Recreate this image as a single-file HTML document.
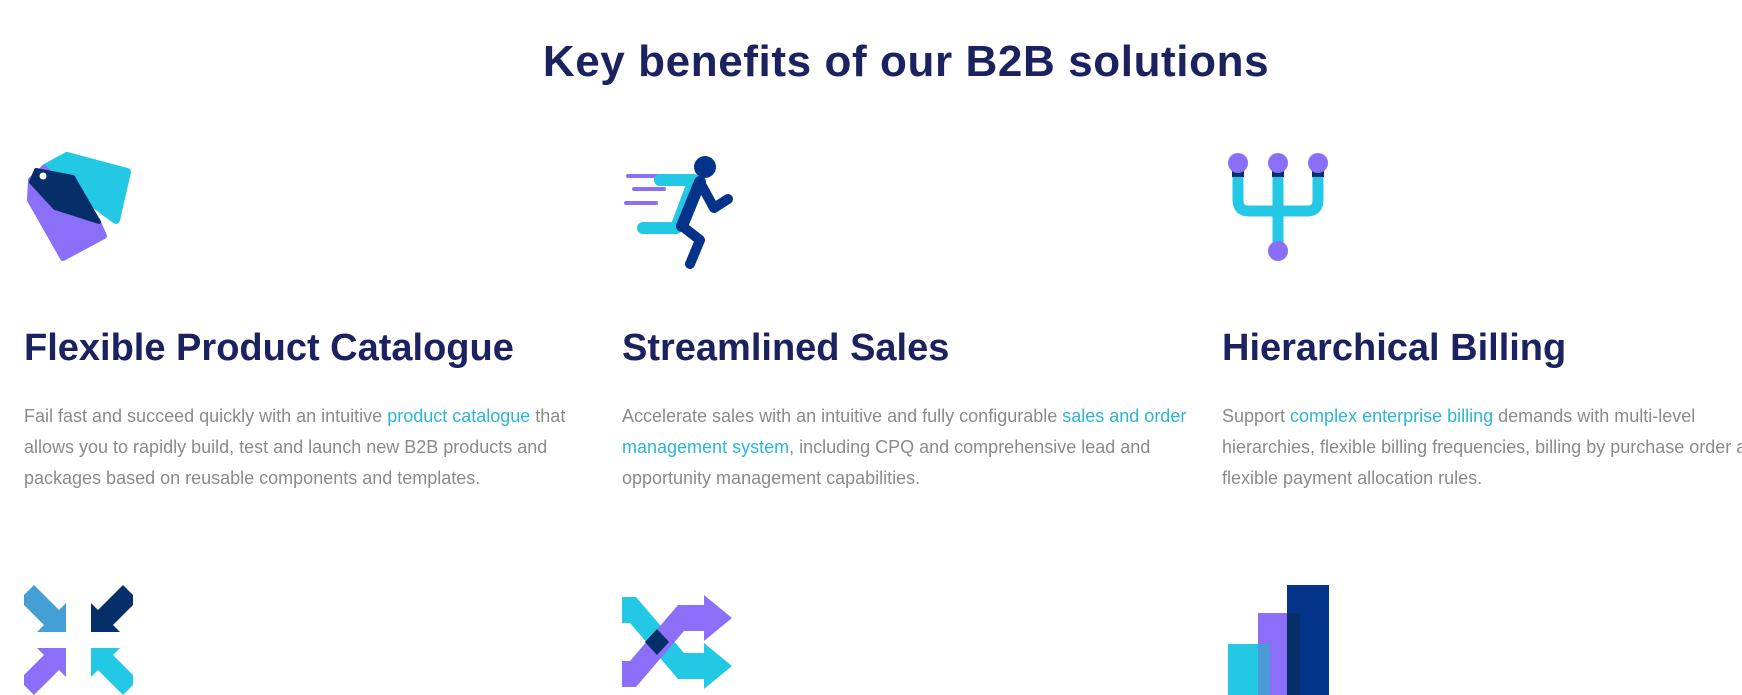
<!DOCTYPE html>
<html><head><meta charset="utf-8"><style>
html,body{margin:0;padding:0;background:#fff;width:1742px;height:695px;overflow:hidden;position:relative;font-family:"Liberation Sans",sans-serif}
h1{position:absolute;left:0;width:1812px;top:37px;margin:0;text-align:center;font-size:44px;font-weight:bold;color:#1c2260;letter-spacing:0.6px}
h2{position:absolute;margin:0;top:327px;font-size:38px;font-weight:bold;color:#1c2260;white-space:nowrap}
p{position:absolute;margin:0;top:401px;font-size:18px;line-height:31px;color:#8a8a8a;width:580px;white-space:nowrap}
a{color:#2bb5d8;text-decoration:none}
svg{position:absolute;left:0;top:0}
</style></head><body>
<h1>Key benefits of our B2B solutions</h1>
<h2 style="left:24px">Flexible Product Catalogue</h2>
<h2 style="left:622px">Streamlined Sales</h2>
<h2 style="left:1222px">Hierarchical Billing</h2>
<p style="left:24px">Fail fast and succeed quickly with an intuitive <a>product catalogue</a> that<br>allows you to rapidly build, test and launch new B2B products and<br>packages based on reusable components and templates.</p>
<p style="left:622px">Accelerate sales with an intuitive and fully configurable <a>sales and order</a><br><a>management system</a>, including CPQ and comprehensive lead and<br>opportunity management capabilities.</p>
<p style="left:1222px">Support <a>complex enterprise billing</a> demands with multi-level<br>hierarchies, flexible billing frequencies, billing by purchase order and<br>flexible payment allocation rules.</p>
<svg width="1742" height="695" viewBox="0 0 1742 695">
<!-- tag -->
<polygon points="67,156 127,172 116,220 45,168" fill="#23c9e4" stroke="#23c9e4" stroke-width="8" stroke-linejoin="round"/>
<polygon points="31,180 44,168 97,220 104,236 63,258 30,200" fill="#8b6ff9" stroke="#8b6ff9" stroke-width="6" stroke-linejoin="round"/>
<polygon points="36,170 73,177 99,222 55,208 31,182" fill="#062e68" stroke="#062e68" stroke-width="4" stroke-linejoin="round"/>
<circle cx="43" cy="176" r="3.5" fill="#fff"/>
<!-- runner -->
<g stroke-linecap="round" fill="none">
<line x1="628" y1="176" x2="672" y2="176" stroke="#8b6ff9" stroke-width="4"/>
<line x1="634" y1="189" x2="664" y2="189" stroke="#8b6ff9" stroke-width="4"/>
<line x1="626" y1="203" x2="656" y2="203" stroke="#8b6ff9" stroke-width="4"/>
<polyline points="660,180 694,180 676,228 643,228" stroke="#23c9e4" stroke-width="12" stroke-linejoin="round"/>
<polyline points="700,182 682,226" stroke="#04338a" stroke-width="12"/>
<polyline points="702,186 714,208 728,199" stroke="#04338a" stroke-width="10" stroke-linejoin="round"/>
<polyline points="682,226 700,240 690,264" stroke="#04338a" stroke-width="10" stroke-linejoin="round"/>
</g>
<circle cx="705" cy="167" r="11" fill="#04338a"/>
<!-- trident -->
<g fill="none" stroke="#23c9e4" stroke-width="11" stroke-linecap="round">
<path d="M1238,170 V200 Q1238,211 1249,211 H1307 Q1318,211 1318,200 V170"/>
<line x1="1278" y1="170" x2="1278" y2="248"/>
</g>
<rect x="1232" y="168" width="12" height="9" fill="#062e68"/><rect x="1272" y="168" width="12" height="9" fill="#062e68"/><rect x="1312" y="168" width="12" height="9" fill="#062e68"/>
<circle cx="1238" cy="163" r="10" fill="#8b6ff9"/><circle cx="1278" cy="163" r="10" fill="#8b6ff9"/><circle cx="1318" cy="163" r="10" fill="#8b6ff9"/><circle cx="1278" cy="251" r="10" fill="#8b6ff9"/>
<!-- converging arrows -->
<g transform="translate(24,585)">
<polygon points="0,10 10,0 35,25 42,18 42,47 13,47 20,40 0,20" fill="#449fd6"/>
<polygon points="109,10 99,0 74,25 67,18 67,47 96,47 89,40 109,20" fill="#062e68"/>
<polygon points="0,100 10,110 35,85 42,92 42,63 13,63 20,70 0,90" fill="#8b6ff9"/>
<polygon points="109,100 99,110 74,85 67,92 67,63 96,63 89,70 109,90" fill="#23c9e4"/>
</g>
<!-- shuffle -->
<g transform="translate(622,589)">
<path d="M0,8 H14 L62,64 H82 V54 L110,77 L82,100 V90 H56 L8,34 H0 Z" fill="#23c9e4"/>
<path d="M0,98 H14 L62,42 H82 V52 L110,29 L82,6 V16 H56 L8,72 H0 Z" fill="#8b6ff9"/>
<polygon points="35,40 47,53 35,66 23,53" fill="#062e68"/>
</g>
<!-- bars -->
<rect x="1228" y="644" width="42" height="51" fill="#23c9e4"/>
<rect x="1258" y="613" width="42" height="82" fill="#8b6ff9"/>
<rect x="1258" y="644" width="12" height="51" fill="#4a9ad8"/>
<rect x="1287" y="585" width="42" height="110" fill="#04338a"/>
<rect x="1287" y="613" width="13" height="82" fill="#062e68"/>
</svg>
</body></html>
